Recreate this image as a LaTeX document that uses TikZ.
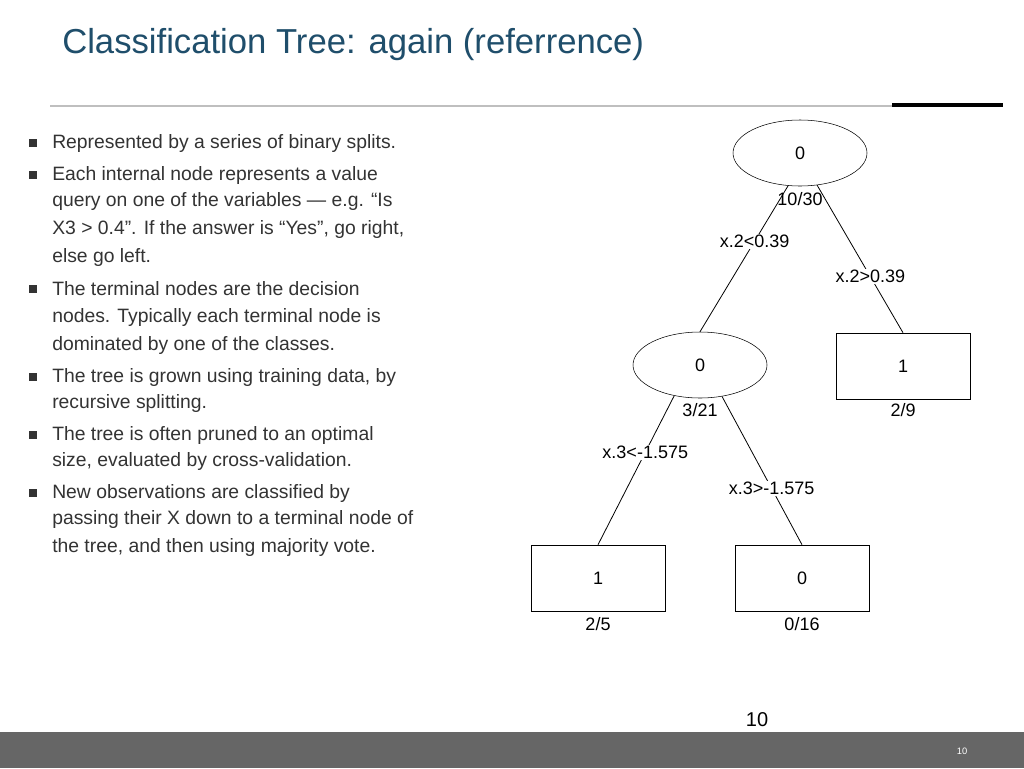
\documentclass[tikz,border=0pt]{standalone}
\usepackage{fontspec}
\usetikzlibrary{shapes.geometric}
\setmainfont{Liberation Sans}
\definecolor{titlec}{HTML}{1F4E6B}
\definecolor{txt}{HTML}{333333}
\begin{document}
\begin{tikzpicture}[x=0.75pt,y=-0.75pt,
  bul/.style={anchor=west,text=txt,font=\fontsize{14.5}{17}\selectfont,inner sep=0},
  sq/.style={fill=txt,minimum size=5.5pt,inner sep=0},
  tn/.style={font=\fontsize{13.5}{16}\selectfont,text=black},
  ell/.style={draw,ellipse,minimum width=134*0.75pt,minimum height=66*0.75pt,tn},
  box/.style={draw,rectangle,minimum width=134*0.75pt,minimum height=66*0.75pt,tn},
  lab/.style={tn,fill=white,inner sep=1pt},
  ed/.style={draw,line width=0.6pt}]
\useasboundingbox (0,0) rectangle (1024,768);
\fill[white] (0,0) rectangle (1024,768);
\node[anchor=west,text=titlec,font=\fontsize{26}{30}\selectfont,inner sep=0] (title) at (62,45) {Classification Tree: again (referrence)};
\draw[gray!50,line width=2pt] (50,106) -- (892,106);
\draw[black,line width=3pt] (892,105) -- (1003,105);
\fill[gray!80!black] (0,732) rectangle (1024,768);
\node[text=white,font=\fontsize{7}{8}\selectfont] (pg) at (962,751) {10};
\node[font=\fontsize{15}{18}\selectfont] (pn) at (757,720) {10};
% bullets
\foreach \y/\t in {143/{Represented by a series of binary splits.},175/{Each internal node represents a value},289/{The terminal nodes are the decision},377/{The tree is grown using training data, by},435/{The tree is often pruned to an optimal},493/{New observations are classified by}}{
  \node[sq] at (33,\y) {};
  \node[bul] at (52,\y) {\t};}
\foreach \y/\t in {201/{query on one of the variables — e.g. “Is},229/{X3 > 0.4”. If the answer is “Yes”, go right,},257/{else go left.},317/{nodes. Typically each terminal node is},345/{dominated by one of the classes.},403/{recursive splitting.},461/{size, evaluated by cross-validation.},519/{passing their X down to a terminal node of},547/{the tree, and then using majority vote.}}{
  \node[bul] at (52,\y) {\t};}
% tree
\node[ell] (r) at (800,153) {0};
\node[tn] (rl) at (800,199) {10/30};
\node[ell] (l) at (700,365) {0};
\node[tn] (ll) at (700,410) {3/21};
\node[box] (rb) at (903,366) {1};
\node[tn] (rbl) at (903,410) {2/9};
\node[box] (a) at (598,578) {1};
\node[tn] (al) at (598,624) {2/5};
\node[box] (b) at (802,578) {0};
\node[tn] (bl) at (802,624) {0/16};
\path[ed] (r.250) -- node[lab,pos=0.38] {x.2<0.39} (l.north);
\path[ed] (r.298) -- node[lab,pos=0.62] {x.2>0.39} (rb.north);
\path[ed] (l.230) -- node[lab,pos=0.38] {x.3<-1.575} (a.north);
\path[ed] (l.305) -- node[lab,pos=0.62] {x.3>-1.575} (b.north);
\end{tikzpicture}
\end{document}
